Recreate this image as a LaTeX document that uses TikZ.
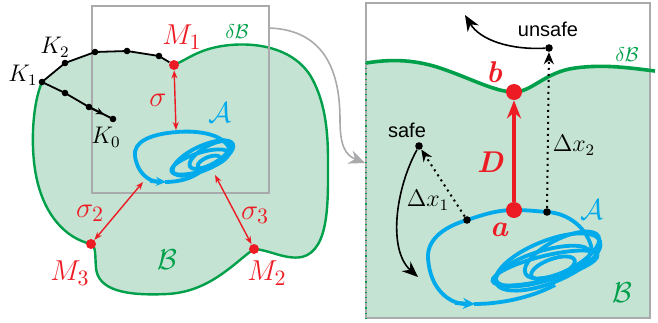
\documentclass[tikz,border=0pt]{standalone}
\usepackage{fontspec}
\setsansfont{Liberation Sans}
\usetikzlibrary{arrows.meta, calc}

\definecolor{regred}{RGB}{237,28,36}
\definecolor{attblue}{RGB}{0,170,235}
\definecolor{bndgreen}{RGB}{0,160,75}
\definecolor{regfill}{RGB}{196,227,211}
\definecolor{framegray}{RGB}{170,170,172}

\begin{document}
\begin{tikzpicture}[x=0.5pt, y=-0.5pt, >=Stealth,
    dot/.style={circle, fill=black, inner sep=0pt, minimum size=3.3pt},
    reddot/.style={circle, fill=regred, inner sep=0pt, minimum size=5pt},
    bigdot/.style={circle, fill=regred, inner sep=0pt, minimum size=8pt},
    att/.style={attblue, line width=1.9pt},
    bnd/.style={bndgreen, line width=1.2pt},
    dist/.style={regred, line width=0.7pt, {Stealth[length=4pt,width=3pt]}-{Stealth[length=4pt,width=3pt]}},
    pert/.style={dotted, line width=1pt, -{Stealth[length=6pt,width=5pt]}},
    mlbl/.style={text=regred, font=\fontsize{15}{15}\selectfont},
    klbl/.style={font=\fontsize{12}{12}\selectfont},
    slbl/.style={font=\sffamily\fontsize{10}{10}\selectfont}]

\useasboundingbox (0,0) rectangle (658,322);

% ---- left panel: region B and its boundary
\fill[regfill] (174,65) .. controls (190,58) and (200,48) .. (230,45)
    .. controls (265,42) and (295,52) .. (310,75)
    .. controls (325,100) and (328,130) .. (328,160)
    .. controls (328,200) and (330,250) .. (302,257)
    .. controls (285,260) and (270,250) .. (254,249)
    .. controls (235,262) and (210,292) .. (167,294)
    .. controls (125,296) and (98,290) .. (96,268)
    .. controls (95,255) and (96,246) .. (91,244)
    .. controls (65,238) and (45,215) .. (37,180)
    .. controls (30,150) and (32,105) .. (42,82)
    -- (65,63) -- (95,52) -- (127,51) -- (159,56) -- cycle;
\draw[bnd] (174,65) .. controls (190,58) and (200,48) .. (230,45)
    .. controls (265,42) and (295,52) .. (310,75)
    .. controls (325,100) and (328,130) .. (328,160)
    .. controls (328,200) and (330,250) .. (302,257)
    .. controls (285,260) and (270,250) .. (254,249)
    .. controls (235,262) and (210,292) .. (167,294)
    .. controls (125,296) and (98,290) .. (96,268)
    .. controls (95,255) and (96,246) .. (91,244)
    .. controls (65,238) and (45,215) .. (37,180)
    .. controls (30,150) and (32,105) .. (42,82);

% zoom frame
\draw[framegray, line width=0.7pt] (92,6) rectangle (269,193);

% attractor A (left)
\draw[att] (230,152) .. controls (228,135) and (200,130) .. (177,132)
    .. controls (150,134) and (133,142) .. (135,156)
    .. controls (137,172) and (148,182) .. (160,182);
\draw[att, -{Stealth[length=5pt,width=4.5pt]}] (150,181) -- (166,182);
\draw[att] (165,182) .. controls (180,182) and (192,178) .. (200,172);
\draw[att, rotate around={25:(203,158)}] (203,158) ellipse [x radius=33, y radius=12];
\draw[att, rotate around={18:(200,162)}] (200,162) ellipse [x radius=30, y radius=9];
\draw[att, rotate around={30:(210,155)}] (210,155) ellipse [x radius=23, y radius=9];
\draw[att, rotate around={22:(209,162)}] (209,162) ellipse [x radius=12, y radius=5];

% trajectory K0 ... M1
\node[dot] (k0) at (113,119) {};
\node[dot] (k01) at (89,107) {};
\node[dot] (k02) at (65,93) {};
\node[dot] (k1) at (42,82) {};
\node[dot] (k2) at (65,63) {};
\node[dot] (k3) at (95,52) {};
\node[dot] (k4) at (127,51) {};
\node[dot] (k5) at (159,56) {};
\node[reddot] (m1) at (174,65) {};
\node[reddot] (m2) at (254,249) {};
\node[reddot] (m3) at (91,244) {};
\draw[line width=0.9pt] (k0.center) -- (k01.center) -- (k02.center) -- (k1.center)
    -- (k2.center) -- (k3.center) -- (k4.center) -- (k5.center) -- (m1);
\draw[line width=0.9pt, -{Stealth[length=4pt,width=3.5pt]}] (k01.center) -- ($(k01.center)!0.62!(k0.center)$);

\node[klbl] (k0lbl) at (106,137) {$K_0$};
\node[klbl] (k1lbl) at (23,75) {$K_1$};
\node[klbl] (k2lbl) at (55,47) {$K_2$};

% distances to the boundary
\coordinate (s1) at (176,130);
\coordinate (s2) at (143,182);
\coordinate (s3) at (215,175);
\draw[dist] (m1) -- (s1);
\draw[dist] (s2) -- (m3);
\draw[dist] (s3) -- (m2);

\node[mlbl] (m1lbl) at (182,37) {$M_1$};
\node[mlbl] (m2lbl) at (267,273) {$M_2$};
\node[mlbl] (m3lbl) at (70,273) {$M_3$};
\node[mlbl] (slbl1) at (158,100) {$\sigma$};
\node[mlbl] (slbl2) at (90,213) {$\sigma_2$};
\node[mlbl] (slbl3) at (255,215) {$\sigma_3$};
\node[text=attblue, font=\fontsize{15}{15}\selectfont] (albl) at (220,113) {$\mathcal{A}$};
\node[text=bndgreen, font=\fontsize{15}{15}\selectfont] (blbl) at (167,260) {$\mathcal{B}$};
\node[text=bndgreen, font=\fontsize{10}{10}\selectfont] (dblbl) at (237,32) {$\delta\mathcal{B}$};

% ---- right panel (zoom)
\fill[regfill] (366,63) .. controls (385,60) and (410,58) .. (440,68)
    .. controls (470,78) and (495,92) .. (514,92)
    .. controls (532,92) and (545,72) .. (575,68)
    .. controls (605,64) and (630,68) .. (650,71) -- (650,318) -- (366,318) -- cycle;
\draw[framegray, line width=0.7pt] (366,3) rectangle (650,318);
\draw[bndgreen, dotted, line width=0.6pt] (366,63) -- (366,318);
\draw[bndgreen, line width=1.8pt] (366,63) .. controls (385,60) and (410,58) .. (440,68)
    .. controls (470,78) and (495,92) .. (514,92)
    .. controls (532,92) and (545,72) .. (575,68)
    .. controls (605,64) and (630,68) .. (655,71);

% link between the frames
\coordinate (fr1) at (269,28);
\coordinate (fr2) at (365,163);
\draw[framegray, line width=0.8pt, -{Stealth[length=8pt,width=7pt]}] (fr1) .. controls (330,30) and (340,80) .. (340,120)
    .. controls (340,145) and (345,155) .. (fr2);

% attractor A (right)
\draw[att] (592,250) .. controls (588,228) and (568,213) .. (547,212)
    .. controls (535,211) and (525,210) .. (514,210)
    .. controls (495,210) and (480,216) .. (467,220)
    .. controls (440,228) and (427,242) .. (428,258)
    .. controls (430,290) and (450,304) .. (466,304);
\draw[att, -{Stealth[length=6pt,width=5.5pt]}] (455,303) -- (475,304);
\draw[att] (474,304) .. controls (500,304) and (530,298) .. (555,285);
\draw[att, rotate around={22:(548,262)}] (548,262) ellipse [x radius=56, y radius=21];
\draw[att, rotate around={17:(543,266)}] (543,266) ellipse [x radius=49, y radius=15];
\draw[att, rotate around={27:(562,255)}] (562,255) ellipse [x radius=41, y radius=16];
\draw[att, rotate around={14:(545,268)}] (545,268) ellipse [x radius=54, y radius=12];
\draw[att, rotate around={20:(553,268)}] (553,268) ellipse [x radius=23, y radius=9];

\node[dot, minimum size=3.8pt] (p1) at (467,220) {};
\node[dot, minimum size=3.8pt] (p2) at (547,212) {};
\node[dot, minimum size=3.8pt] (safe) at (419,146) {};
\node[dot, minimum size=3.8pt] (unsafe) at (549,48) {};
\node[bigdot] (a) at (514,210) {};
\node[bigdot] (b) at (514,92) {};
\coordinate (esc) at (465,15);
\coordinate (back) at (418,277);

\draw[regred, line width=1.6pt, -{Stealth[length=9pt,width=7pt]}] (a) -- (b);
\draw[pert] (p1) -- (safe);
\draw[pert] (p2) -- (unsafe);
\draw[line width=0.8pt, -{Stealth[length=8pt,width=6.5pt]}] (unsafe) .. controls (510,50) and (480,40) .. (esc);
\draw[line width=0.8pt, -{Stealth[length=8pt,width=6.5pt]}] (safe) .. controls (395,190) and (388,250) .. (back);

\node[text=regred, font=\fontsize{15}{15}\selectfont\bfseries\itshape] (albl2) at (499,230) {a};
\node[text=regred, font=\fontsize{15}{15}\selectfont\bfseries\itshape] (blbl2) at (494,72) {b};
\node[text=regred, font=\fontsize{15}{15}\selectfont\bfseries\itshape] (dlbl) at (490,162) {D};
\node[slbl] (safelbl) at (407,130) {safe};
\node[slbl] (unsafelbl) at (548,29) {unsafe};
\node[klbl] (dx1lbl) at (428,200) {$\Delta x_1$};
\node[klbl] (dx2lbl) at (574,145) {$\Delta x_2$};
\node[text=attblue, font=\fontsize{15}{15}\selectfont] (albl3) at (592,210) {$\mathcal{A}$};
\node[text=bndgreen, font=\fontsize{15}{15}\selectfont] (blbl3) at (622,293) {$\mathcal{B}$};
\node[text=bndgreen, font=\fontsize{10}{10}\selectfont] (dblbl2) at (627,55) {$\delta\mathcal{B}$};
\end{tikzpicture}
\end{document}
